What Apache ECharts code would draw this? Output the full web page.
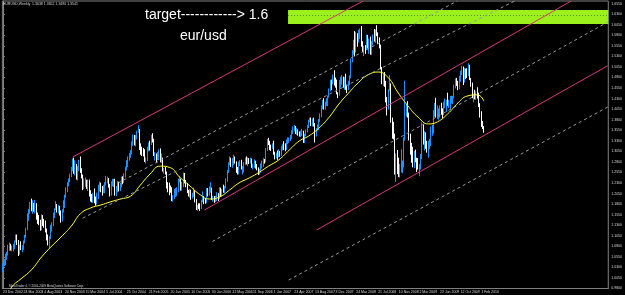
<!DOCTYPE html>
<html><head><meta charset="utf-8">
<script src="https://cdn.jsdelivr.net/npm/echarts@6/dist/echarts.min.js"></script>
<style>html,body{margin:0;padding:0;background:#000;}#c{width:625px;height:295px;}</style>
</head><body><div id="c"></div>
<script>
// ---- data (EUR/USD weekly) ----
const firstOpen = 1.022;
const closes = [
1.035,1.043,1.058,1.061,1.078,1.078,1.075,1.077,1.080,1.092,
1.098,1.092,1.062,1.080,1.078,1.081,1.090,1.104,1.122,1.152,
1.165,1.181,1.176,1.180,1.167,1.180,1.151,1.146,1.137,1.122,
1.149,1.140,1.136,1.117,1.097,1.096,1.102,1.129,1.133,1.152,
1.169,1.177,1.164,1.173,1.164,1.145,1.165,1.180,1.199,1.211,
1.227,1.236,1.246,1.263,1.275,1.259,1.270,1.246,1.265,1.281,
1.259,1.246,1.226,1.232,1.232,1.226,1.230,1.204,1.199,1.190,
1.198,1.190,1.184,1.199,1.221,1.230,1.218,1.211,1.216,1.230,
1.238,1.239,1.222,1.205,1.230,1.232,1.236,1.206,1.220,1.230,
1.214,1.225,1.242,1.239,1.248,1.266,1.276,1.290,1.296,1.302,
1.327,1.342,1.329,1.339,1.351,1.356,1.315,1.312,1.305,1.304,
1.282,1.283,1.312,1.325,1.324,1.340,1.334,1.298,1.299,1.284,
1.290,1.307,1.286,1.287,1.259,1.261,1.254,1.229,1.222,1.214,
1.210,1.194,1.198,1.210,1.212,1.212,1.235,1.239,1.218,1.227,
1.251,1.234,1.227,1.212,1.203,1.213,1.195,1.205,1.208,1.188,
1.170,1.173,1.172,1.167,1.187,1.196,1.185,1.184,1.210,1.209,
1.212,1.213,1.193,1.197,1.188,1.190,1.205,1.192,1.215,1.203,
1.212,1.210,1.219,1.237,1.257,1.278,1.282,1.274,1.283,1.294,
1.280,1.262,1.255,1.279,1.279,1.264,1.265,1.276,1.287,1.277,
1.285,1.279,1.284,1.270,1.270,1.281,1.268,1.265,1.253,1.260,
1.272,1.276,1.283,1.282,1.311,1.331,1.327,1.316,1.314,1.320,
1.300,1.292,1.297,1.293,1.301,1.300,1.313,1.322,1.321,1.311,
1.327,1.330,1.336,1.339,1.352,1.359,1.362,1.352,1.352,1.351,
1.345,1.351,1.353,1.328,1.344,1.353,1.364,1.378,1.382,1.369,
1.378,1.369,1.351,1.357,1.363,1.378,1.390,1.408,1.425,1.408,
1.420,1.424,1.434,1.451,1.473,1.467,1.484,1.466,1.465,1.443,
1.441,1.472,1.475,1.479,1.461,1.476,1.452,1.450,1.467,1.483,
1.518,1.535,1.566,1.545,1.578,1.574,1.580,1.583,1.561,1.546,
1.548,1.547,1.576,1.552,1.564,1.538,1.563,1.579,1.569,1.593,
1.584,1.569,1.556,1.501,1.467,1.487,1.467,1.425,1.423,1.449,
1.460,1.380,1.360,1.343,1.267,1.273,1.270,1.257,1.265,1.270,
1.271,1.333,1.390,1.408,1.394,1.336,1.322,1.281,1.280,1.295,
1.287,1.268,1.266,1.266,1.293,1.361,1.329,1.349,1.318,1.304,
1.322,1.328,1.345,1.351,1.399,1.415,1.387,1.397,1.401,1.409,
1.395,1.393,1.415,1.423,1.424,1.417,1.422,1.432,1.433,1.433,
1.456,1.472,1.469,1.456,1.477,1.491,1.501,1.471,1.495,1.492,
1.491,1.499,1.476,1.461,1.434,1.438,1.433,1.441,1.439,1.413,
1.386,1.367,1.363,1.354];
const highs = [
1.040,1.050,1.062,1.067,1.084,1.089,1.086,1.082,1.086,1.094,
1.108,1.108,1.095,1.084,1.092,1.083,1.094,1.107,1.124,1.158,
1.168,1.185,1.193,1.189,1.183,1.190,1.182,1.160,1.154,1.143,
1.156,1.154,1.145,1.141,1.122,1.108,1.104,1.131,1.137,1.160,
1.170,1.187,1.180,1.178,1.176,1.165,1.168,1.189,1.202,1.220,
1.232,1.241,1.252,1.268,1.288,1.290,1.284,1.275,1.270,1.285,
1.293,1.265,1.250,1.241,1.243,1.238,1.238,1.238,1.213,1.204,
1.206,1.217,1.198,1.207,1.226,1.233,1.231,1.223,1.225,1.232,
1.247,1.245,1.242,1.228,1.234,1.240,1.240,1.240,1.223,1.235,
1.233,1.230,1.245,1.246,1.253,1.269,1.284,1.293,1.301,1.308,
1.329,1.345,1.344,1.344,1.354,1.367,1.358,1.324,1.316,1.313,
1.310,1.291,1.316,1.326,1.330,1.344,1.348,1.335,1.303,1.300,
1.304,1.310,1.312,1.300,1.290,1.266,1.268,1.257,1.232,1.231,
1.224,1.220,1.201,1.216,1.218,1.220,1.240,1.247,1.240,1.233,
1.255,1.254,1.237,1.230,1.214,1.216,1.214,1.207,1.219,1.213,
1.192,1.178,1.182,1.182,1.190,1.210,1.199,1.195,1.218,1.218,
1.222,1.232,1.219,1.200,1.199,1.200,1.208,1.206,1.220,1.219,
1.216,1.226,1.223,1.241,1.261,1.279,1.293,1.290,1.289,1.297,
1.293,1.281,1.268,1.281,1.284,1.285,1.270,1.279,1.290,1.293,
1.291,1.289,1.290,1.288,1.276,1.286,1.283,1.275,1.267,1.264,
1.276,1.283,1.289,1.287,1.313,1.334,1.337,1.330,1.321,1.324,
1.330,1.304,1.302,1.307,1.310,1.306,1.318,1.323,1.329,1.324,
1.333,1.338,1.338,1.344,1.355,1.364,1.368,1.365,1.361,1.357,
1.352,1.354,1.358,1.354,1.347,1.357,1.368,1.380,1.385,1.385,
1.383,1.385,1.372,1.360,1.369,1.382,1.395,1.414,1.427,1.431,
1.423,1.431,1.437,1.454,1.475,1.475,1.487,1.497,1.480,1.475,
1.445,1.474,1.482,1.486,1.482,1.481,1.489,1.463,1.472,1.485,
1.525,1.545,1.569,1.590,1.588,1.585,1.593,1.596,1.602,1.566,
1.555,1.557,1.582,1.581,1.572,1.577,1.566,1.582,1.595,1.594,
1.604,1.587,1.575,1.558,1.505,1.490,1.493,1.472,1.434,1.452,
1.486,1.466,1.385,1.375,1.347,1.300,1.308,1.290,1.275,1.310,
1.283,1.338,1.472,1.418,1.424,1.397,1.347,1.325,1.316,1.306,
1.309,1.290,1.289,1.275,1.299,1.374,1.370,1.353,1.350,1.330,
1.330,1.335,1.364,1.368,1.403,1.420,1.432,1.414,1.407,1.414,
1.420,1.407,1.423,1.430,1.427,1.444,1.427,1.436,1.437,1.436,
1.463,1.478,1.479,1.472,1.484,1.496,1.508,1.506,1.503,1.501,
1.502,1.514,1.510,1.479,1.468,1.442,1.451,1.447,1.457,1.444,
1.419,1.400,1.377,1.365];
const lows = [
1.019,1.033,1.035,1.048,1.058,1.069,1.070,1.068,1.068,1.073,
1.089,1.083,1.057,1.060,1.071,1.066,1.072,1.087,1.100,1.118,
1.140,1.157,1.163,1.157,1.162,1.158,1.143,1.133,1.130,1.117,
1.118,1.128,1.124,1.113,1.094,1.082,1.076,1.097,1.115,1.128,
1.147,1.166,1.160,1.158,1.153,1.136,1.139,1.160,1.171,1.195,
1.208,1.222,1.232,1.244,1.258,1.252,1.248,1.238,1.236,1.258,
1.254,1.241,1.213,1.216,1.221,1.216,1.211,1.198,1.186,1.184,
1.183,1.182,1.176,1.179,1.192,1.210,1.208,1.200,1.206,1.206,
1.224,1.229,1.219,1.198,1.200,1.222,1.220,1.200,1.199,1.208,
1.210,1.211,1.220,1.227,1.230,1.243,1.260,1.268,1.283,1.289,
1.298,1.318,1.319,1.317,1.333,1.349,1.308,1.297,1.294,1.293,
1.280,1.276,1.282,1.305,1.307,1.320,1.326,1.294,1.283,1.277,
1.284,1.284,1.279,1.278,1.257,1.252,1.250,1.217,1.208,1.201,
1.207,1.187,1.186,1.192,1.197,1.199,1.208,1.231,1.212,1.212,
1.220,1.229,1.220,1.206,1.198,1.195,1.190,1.193,1.197,1.184,
1.166,1.164,1.168,1.164,1.168,1.185,1.180,1.181,1.182,1.198,
1.200,1.207,1.190,1.186,1.183,1.185,1.187,1.187,1.192,1.198,
1.198,1.207,1.206,1.217,1.233,1.254,1.272,1.268,1.266,1.272,
1.276,1.254,1.250,1.250,1.270,1.262,1.250,1.255,1.273,1.274,
1.270,1.275,1.276,1.266,1.262,1.266,1.264,1.260,1.249,1.250,
1.254,1.264,1.268,1.276,1.279,1.306,1.320,1.308,1.306,1.311,
1.297,1.286,1.288,1.285,1.291,1.292,1.294,1.307,1.308,1.305,
1.308,1.322,1.325,1.330,1.334,1.346,1.352,1.346,1.344,1.342,
1.340,1.339,1.341,1.325,1.325,1.341,1.350,1.360,1.374,1.365,
1.364,1.364,1.326,1.340,1.354,1.355,1.375,1.386,1.405,1.404,
1.404,1.413,1.412,1.432,1.447,1.450,1.464,1.461,1.456,1.440,
1.431,1.437,1.456,1.463,1.456,1.451,1.451,1.443,1.450,1.462,
1.478,1.516,1.534,1.530,1.539,1.553,1.563,1.571,1.553,1.540,
1.531,1.536,1.545,1.549,1.536,1.534,1.534,1.556,1.565,1.562,
1.578,1.559,1.549,1.499,1.464,1.460,1.458,1.421,1.390,1.404,
1.448,1.373,1.335,1.333,1.250,1.233,1.251,1.244,1.243,1.255,
1.253,1.267,1.330,1.387,1.385,1.331,1.297,1.278,1.267,1.265,
1.279,1.256,1.262,1.246,1.262,1.287,1.321,1.307,1.311,1.302,
1.290,1.310,1.318,1.342,1.347,1.387,1.385,1.382,1.380,1.385,
1.392,1.383,1.391,1.407,1.398,1.413,1.408,1.405,1.418,1.417,
1.430,1.454,1.460,1.450,1.452,1.470,1.486,1.462,1.468,1.476,
1.479,1.484,1.474,1.458,1.431,1.421,1.428,1.427,1.430,1.410,
1.385,1.363,1.358,1.349];

// yellow moving average, read at sampled bars
const maIndex = [5,8,14,22,30,37,45,53,60,68,76,83,91,99,106,114,122,130,137,145,153,160,168,176,183,191,199,206,214,222,230,237,245,253,260,268,276,283,291,299,306,314,322,330,337,345,353,360,368,373];
const maValue = [0.975,0.988,1.003,1.024,1.055,1.078,1.102,1.128,1.157,1.171,1.178,1.185,1.192,1.199,1.223,1.251,1.270,1.266,1.244,1.223,1.202,1.192,1.197,1.214,1.230,1.242,1.256,1.270,1.285,1.308,1.330,1.341,1.360,1.386,1.415,1.443,1.469,1.486,1.493,1.479,1.446,1.413,1.386,1.370,1.375,1.394,1.420,1.436,1.439,1.424];

// channel lines: [barIndex1, price1, barIndex2, price2]
const pinkLines = [
  [54.1,1.2916,279.3,1.6613],
  [156.3,1.166,440.7,1.6613],
  [243.2,1.1186,469.1,1.508]
];
const grayLines = [
  [61.8,1.1467,396.9,1.6613],
  [89.4,1.230,352.3,1.6613],
  [162.4,1.0914,469.1,1.6115],
  [221.6,1.0001,469.1,1.4101]
];
const targetZone = {fromIndex:221.1, toIndex:469.5, high:1.640, low:1.6068, mid:1.6269};

const slotCount = 470;
const tickLabels = [[0,'23 Dec 2002'],[16,'24 Mar 2003'],[32,'4 Aug 2003'],[48,'24 Nov 2003'],[64,'15 Mar 2004'],[80,'5 Jul 2004'],[96,'25 Oct 2004'],[113,'21 Feb 2005'],[130,'20 Jun 2005'],[146,'10 Oct 2005'],[162,'30 Jan 2006'],[178,'22 May 2006'],[194,'11 Sep 2006'],[210,'1 Jan 2007'],[226,'23 Apr 2007'],[242,'13 Aug 2007'],[258,'3 Dec 2007'],[274,'24 Mar 2008'],[291,'21 Jul 2008'],[307,'10 Nov 2008'],[323,'2 Mar 2009'],[339,'22 Jun 2009'],[355,'12 Oct 2009'],[371,'1 Feb 2010']];
const yMin = 0.98, yMax = 1.6613, yStep = 0.025;
const lastPrice = 1.3541;
const headerText = 'EURUSD,Weekly  1.3638 1.3652 1.3490 1.3541';
const copyText = 'MetaTrader 4, \u00a9 2001-2009 MetaQuotes Software Corp.';
const noteTitle = 'target------------> 1.6';
const noteSub = 'eur/usd';

// ---- build ----
const catLabels = new Array(slotCount).fill('');
tickLabels.forEach(([i, t]) => { catLabels[i] = t; });
const candleData = closes.map((c, i) => [i === 0 ? firstOpen : closes[i - 1], c, lows[i], highs[i]]);
const maData = maIndex.map((x, k) => [x, maValue[k]]);

const PINK = '#d33a78', GRAY = '#9a9a9a', AXIS = '#808080', TXT = '#d6d6d6';
const smallFont = 'Liberation Sans';

const lineSeries = [];
pinkLines.forEach(l => lineSeries.push({
  type: 'line', xAxisIndex: 1, yAxisIndex: 0, data: [[l[0], l[1]], [l[2], l[3]]],
  symbol: 'none', silent: true, z: 5, lineStyle: {color: PINK, width: 1}
}));
grayLines.forEach(l => lineSeries.push({
  type: 'line', xAxisIndex: 1, yAxisIndex: 0, data: [[l[0], l[1]], [l[2], l[3]]],
  symbol: 'none', silent: true, z: 4, lineStyle: {color: GRAY, width: 1, type: [3, 3]}
}));

const chart = echarts.init(document.getElementById('c'));
chart.setOption({
  animation: false,
  backgroundColor: '#000',
  grid: {left: 1, right: 12.5, top: 1, bottom: 6.5, show: true, borderColor: AXIS, borderWidth: 1, backgroundColor: '#000'},
  xAxis: [{
    type: 'category', data: catLabels, boundaryGap: true,
    axisLine: {lineStyle: {color: AXIS}},
    axisTick: {alignWithLabel: true, length: 2, interval: (i, v) => v !== '', lineStyle: {color: AXIS}},
    axisLabel: {interval: (i, v) => v !== '', align: 'left', fontSize: 3.5, margin: 1.5, color: TXT, fontFamily: smallFont},
    splitLine: {show: false}
  }, {
    type: 'value', min: -0.5, max: slotCount - 0.5, show: false
  }],
  yAxis: [{
    type: 'value', position: 'right', min: yMin, max: yMax, interval: yStep, scale: true,
    axisLine: {show: true, lineStyle: {color: AXIS}},
    axisTick: {show: true, length: 2, lineStyle: {color: AXIS}},
    axisLabel: {fontSize: 3.5, margin: 3, color: TXT, fontFamily: smallFont, formatter: v => v.toFixed(4)},
    splitLine: {show: false}
  }],
  graphic: [
    {type: 'text', x: 3, y: 4.5, z: 20, style: {text: headerText, fill: TXT, font: '3.5px "Liberation Sans"', textVerticalAlign: 'middle'}},
    {type: 'text', x: 9, y: 286, z: 20, style: {text: copyText, fill: TXT, font: '3px "Liberation Sans"', textVerticalAlign: 'middle'}},
    {type: 'text', x: 145, y: 15.5, z: 20, style: {text: noteTitle, fill: '#ffffff', font: '14px "Liberation Sans"', textVerticalAlign: 'middle'}},
    {type: 'text', x: 180, y: 36, z: 20, style: {text: noteSub, fill: '#ffffff', font: '14px "Liberation Sans"', textVerticalAlign: 'middle'}}
  ],
  series: [
    {
      type: 'line', xAxisIndex: 1, yAxisIndex: 0, silent: true, z: 1,
      data: [[targetZone.fromIndex, targetZone.mid], [targetZone.toIndex, targetZone.mid]],
      symbol: 'none', lineStyle: {color: '#4f8f00', width: 1, type: [1, 2]},
      markArea: {silent: true, itemStyle: {color: '#9cf01c', opacity: 1},
        data: [[{coord: [targetZone.fromIndex, targetZone.high]}, {coord: [targetZone.toIndex, targetZone.low]}]]}
    },
    {
      type: 'candlestick', xAxisIndex: 0, yAxisIndex: 0, data: candleData, barWidth: 0.4, z: 2,
      itemStyle: {color: '#1e90ff', color0: '#ffffff', borderColor: '#1e90ff', borderColor0: '#ffffff', borderWidth: 1},
      markLine: {silent: true, symbol: ['none', 'none'], animation: false,
        lineStyle: {opacity: 0},
        label: {show: true, position: 'end', distance: 1, formatter: lastPrice.toFixed(4), backgroundColor: '#ffffff', color: '#000', fontSize: 3.5, padding: [1, 2], fontFamily: smallFont},
        data: [{yAxis: lastPrice}]}
    },
    {
      type: 'line', xAxisIndex: 1, yAxisIndex: 0, data: maData, smooth: true, symbol: 'none', silent: true, z: 3,
      lineStyle: {color: '#ffff33', width: 1}
    }
  ].concat(lineSeries)
});
</script>
</body></html>
